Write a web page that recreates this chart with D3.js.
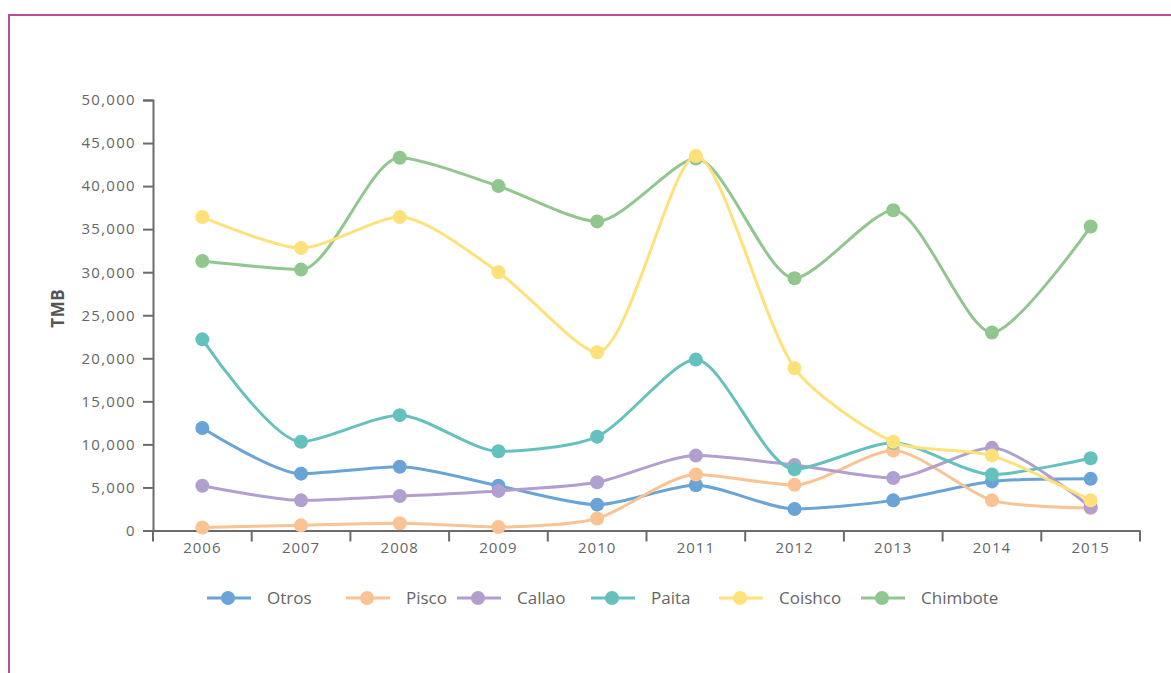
<!DOCTYPE html>
<html>
<head>
<meta charset="utf-8">
<script src="https://cdn.jsdelivr.net/npm/d3@7"></script>
<style>
  body { margin: 0; background: #fff; }
  svg { display: block; font-family: "Open Sans", "Noto Sans", sans-serif; }
</style>
</head>
<body>
<div id="chart"></div>
<script>
// data (TMB per port, 2006-2015)
var years = ["2006", "2007", "2008", "2009", "2010", "2011", "2012", "2013", "2014", "2015"];
var otros    = [11900, 6600, 7400, 5200, 3000, 5250, 2500, 3500, 5700, 6000];
var pisco    = [350, 600, 850, 400, 1400, 6500, 5300, 9300, 3500, 2600];
var callao   = [5200, 3500, 4000, 4600, 5600, 8700, 7600, 6100, 9600, 2700];
var paita    = [22200, 10300, 13400, 9200, 10900, 19850, 7100, 10200, 6500, 8400];
var coishco  = [36400, 32800, 36400, 30000, 20700, 43500, 18850, 10300, 8700, 3500];
var chimbote = [31300, 30300, 43300, 40000, 35900, 43200, 29300, 37200, 23000, 35300];
var yTicks = [0, 5000, 10000, 15000, 20000, 25000, 30000, 35000, 40000, 45000, 50000];

var seriesNames = ["Otros", "Pisco", "Callao", "Paita", "Coishco", "Chimbote"];
var seriesValues = [otros, pisco, callao, paita, coishco, chimbote];
var colors = ["#6aa4d6", "#f9c394", "#b1a0cf", "#65c1bd", "#fee17b", "#91c78e"];

var width = 1171, height = 673;
var margin = { top: 100, right: 31, bottom: 142.5, left: 153 };

var svg = d3.select("#chart").append("svg")
  .attr("width", width)
  .attr("height", height);

// frame
svg.append("rect")
  .attr("x", 9).attr("y", 15)
  .attr("width", width + 20).attr("height", height + 20)
  .attr("fill", "none")
  .attr("stroke", "#b84f9c")
  .attr("stroke-width", 2);

var x = d3.scaleBand()
  .domain(years)
  .range([margin.left, width - margin.right]);

var y = d3.scaleLinear()
  .domain([0, 50000])
  .range([height - margin.bottom, margin.top]);

var axisColor = "#6b6b6b";
var labelColor = "#666";

// y axis
var yAxis = svg.append("g")
  .attr("transform", "translate(" + margin.left + ",0)")
  .call(d3.axisLeft(y).tickValues(yTicks).tickFormat(d3.format(",")).tickSize(10).tickPadding(7));
yAxis.select(".domain").attr("stroke", axisColor).attr("stroke-width", 2);
yAxis.selectAll(".tick line").attr("stroke", axisColor).attr("stroke-width", 2);
yAxis.selectAll(".tick text")
  .attr("fill", labelColor)
  .style("font-size", "15px")
  .style("letter-spacing", "1.3px")
  .style("font-family", "'Open Sans', sans-serif");

// x axis: labels at band centres, ticks at band edges
var xAxis = svg.append("g")
  .attr("transform", "translate(0," + y(0) + ")")
  .call(d3.axisBottom(x).tickSize(0).tickPadding(12));
xAxis.select(".domain").attr("stroke", axisColor).attr("stroke-width", 2);
xAxis.selectAll(".tick text")
  .attr("fill", labelColor)
  .style("font-size", "15px")
  .style("letter-spacing", "1px")
  .style("font-family", "'Open Sans', sans-serif");

var edges = years.map(function (d) { return x(d); }).concat([x.range()[1]]);
xAxis.selectAll(".edge")
  .data(edges)
  .enter().append("line")
  .attr("class", "edge")
  .attr("x1", function (d) { return d; })
  .attr("x2", function (d) { return d; })
  .attr("y1", 0)
  .attr("y2", 11)
  .attr("stroke", axisColor)
  .attr("stroke-width", 2);

// y title
svg.append("text")
  .attr("transform", "translate(64," + (y(25000) - 7) + ") rotate(-90)")
  .attr("text-anchor", "middle")
  .attr("fill", "#555")
  .style("font-size", "17px")
  .style("letter-spacing", "0.5px")
  .style("font-weight", "bold")
  .text("TMB");

// smoothing like echarts line "smooth"
function clamp(v, a, b) { return Math.max(Math.min(a, b), Math.min(v, Math.max(a, b))); }
function smoothPath(pts, smooth) {
  var p = d3.path();
  var cpx0, cpy0;
  for (var i = 0; i < pts.length; i++) {
    var px0 = pts[i][0], py0 = pts[i][1];
    if (i === 0) { p.moveTo(px0, py0); cpx0 = px0; cpy0 = py0; continue; }
    var prevX = pts[i - 1][0], prevY = pts[i - 1][1];
    var cpx1, cpy1, ncx = px0, ncy = py0;
    if (i === pts.length - 1) {
      cpx1 = px0; cpy1 = py0;
    } else {
      var nextX = pts[i + 1][0], nextY = pts[i + 1][1];
      var vx = nextX - prevX, vy = nextY - prevY;
      var lp = Math.hypot(px0 - prevX, py0 - prevY);
      var ln = Math.hypot(nextX - px0, nextY - py0);
      var r = ln / (ln + lp);
      ncx = clamp(px0 + vx * smooth * r, nextX, px0);
      ncy = clamp(py0 + vy * smooth * r, nextY, py0);
      vx = ncx - px0; vy = ncy - py0;
      cpx1 = clamp(px0 - vx * lp / ln, prevX, px0);
      cpy1 = clamp(py0 - vy * lp / ln, prevY, py0);
      vx = px0 - cpx1; vy = py0 - cpy1;
      ncx = px0 + vx * ln / lp;
      ncy = py0 + vy * ln / lp;
    }
    p.bezierCurveTo(cpx0, cpy0, cpx1, cpy1, px0, py0);
    cpx0 = ncx; cpy0 = ncy;
  }
  return p.toString();
}

// draw order: Chimbote below Coishco
var drawOrder = [0, 1, 2, 3, 5, 4];
var plot = svg.append("g");
drawOrder.forEach(function (si) {
  var vals = seriesValues[si];
  var pts = vals.map(function (v, i) { return [x(years[i]) + x.bandwidth() / 2, y(v)]; });
  var g = plot.append("g");
  g.append("path")
    .attr("d", smoothPath(pts, 0.25))
    .attr("fill", "none")
    .attr("stroke", colors[si])
    .attr("stroke-width", 3);
  g.selectAll("circle")
    .data(pts)
    .enter().append("circle")
    .attr("cx", function (d) { return d[0]; })
    .attr("cy", function (d) { return d[1]; })
    .attr("r", 7)
    .attr("fill", colors[si]);
});

// legend
var legendX = [207, 346, 457, 591, 719, 861];
var legendY = 598;
var legend = svg.append("g");
seriesNames.forEach(function (name, i) {
  var g = legend.append("g").attr("transform", "translate(" + legendX[i] + "," + legendY + ")");
  g.append("line")
    .attr("x1", 0).attr("x2", 44)
    .attr("y1", 0).attr("y2", 0)
    .attr("stroke", colors[i])
    .attr("stroke-width", 3);
  g.append("circle")
    .attr("cx", 21).attr("cy", 0).attr("r", 7)
    .attr("fill", colors[i]);
  g.append("text")
    .attr("x", 60).attr("y", 0)
    .attr("dy", "0.35em")
    .attr("fill", labelColor)
    .style("font-size", "17px")
    .text(name);
});
</script>
</body>
</html>
